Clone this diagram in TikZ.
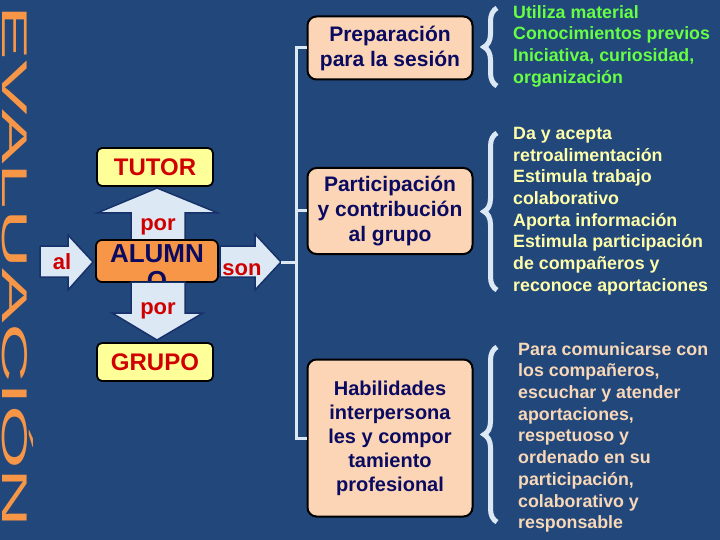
\documentclass[tikz,border=0pt]{standalone}
\usepackage{fontspec}
\setmainfont{Liberation Sans}
\usetikzlibrary{decorations.pathreplacing}
\definecolor{bg}{HTML}{22477A}
\definecolor{orng}{HTML}{F79646}
\definecolor{yel}{HTML}{FFFF99}
\definecolor{peach}{HTML}{FBD5B5}
\definecolor{navy}{HTML}{0A0A60}
\definecolor{lblue}{HTML}{DCE9F5}
\definecolor{aborder}{HTML}{17316A}
\definecolor{red1}{HTML}{D00000}
\definecolor{grn}{HTML}{66FF44}
\definecolor{ltyel}{HTML}{FFFFAA}
\definecolor{ltpeach}{HTML}{F8D8B8}
\begin{document}
\begin{tikzpicture}[x=1pt,y=-1pt,
  ybox/.style={draw=black,line width=1.8pt,fill=yel,rounded corners=5pt,minimum width=116pt,minimum height=38pt,inner sep=1pt,text=red1,font=\bfseries\fontsize{24}{24}\selectfont},
  pbox/.style={draw=black,line width=2pt,fill=peach,rounded corners=9pt,minimum width=165pt,inner sep=1pt,text=navy,font=\bfseries\fontsize{21}{25}\selectfont,align=center},
  arr/.style={fill=lblue,draw=aborder,line width=1.5pt,line join=miter},
  alab/.style={text=red1,font=\bfseries\fontsize{22}{22}\selectfont},
  conn/.style={draw=lblue,line width=3pt},
  brc/.style={draw=lblue,line width=5pt,decorate,decoration={brace,amplitude=13pt}},
  rtxt/.style={anchor=north west,align=left,inner sep=0,font=\bfseries\fontsize{17.8}{21.7}\selectfont}]
\fill[bg] (0,0) rectangle (720,540);
\useasboundingbox (0,0) rectangle (720,540);
% title
\node[text=orng,inner sep=0] (title) at (18,267) {\rotatebox{-90}{\resizebox{522pt}{31pt}{EVALUACIÓN}}};
% up arrow
\draw[arr] (131,241)--(131,213)--(97,213)--(157,188)--(218,213)--(185,213)--(185,241)--cycle;
\node[alab] (por1) at (158,227) {por};
% al arrow
\draw[arr] (40,246)--(68,246)--(68,235)--(93,262)--(68,290)--(68,277)--(40,277)--cycle;
\node[alab] (al) at (62,262) {al};
% son arrow
\draw[arr] (220,246)--(255,246)--(255,234)--(281,262)--(255,290)--(255,277)--(220,277)--cycle;
\node[alab] (son) at (242,270) {son};
% boxes
\node[ybox] (tutor) at (155,167) {TUTOR};
\node[draw=black,line width=1.8pt,fill=orng,rounded corners=6pt,minimum width=122pt,minimum height=42pt] (alumno) at (157,261) {};
\node[text=navy,font=\bfseries\fontsize{26}{27}\selectfont,align=center] (alt) at (157,267) {ALUMN\\O};
% down arrow
\draw[arr] (131,282)--(131,313)--(112,313)--(157,340)--(203,313)--(185,313)--(185,282)--cycle;
\node[alab] (por2) at (158,311) {por};
\node[ybox] (grupo) at (155,362) {GRUPO};
% right boxes
\node[pbox,minimum height=63pt] (b1) at (390,48) {Preparación\\para la sesión};
\node[pbox,minimum height=86pt] (b2) at (390,211) {Participación\\y contribución\\al grupo};
\node[pbox,minimum height=157pt,font=\bfseries\fontsize{20}{24}\selectfont] (b3) at (390,438) {Habilidades\\interpersona\\les y compor\\tamiento\\profesional};
% connectors
\coordinate (j) at (296,262);
\coordinate (st) at (281,262);
\draw[conn] (st) -- (j);
\draw[conn] (b1.west) -- (296,48) -- (296,438) -- (b3.west);
\draw[conn] (296,211) -- (b2.west);
% braces
\draw[brc] (497,86) -- (497,8);
\draw[brc] (497,290) -- (497,133);
\draw[brc] (497,522) -- (497,347);
% texts
\node[rtxt,text=grn] (t1) at (513,5) {Utiliza material\\Conocimientos previos\\Iniciativa, curiosidad,\\organización};
\node[rtxt,text=ltyel] (t2) at (513,127) {Da y acepta\\retroalimentación\\Estimula trabajo\\colaborativo\\Aporta información\\Estimula participación\\de compañeros y\\reconoce aportaciones};
\node[rtxt,text=ltpeach] (t3) at (518,342) {Para comunicarse con\\los compañeros,\\escuchar y atender\\aportaciones,\\respetuoso y\\ordenado en su\\participación,\\colaborativo y\\responsable};
\end{tikzpicture}
\end{document}
